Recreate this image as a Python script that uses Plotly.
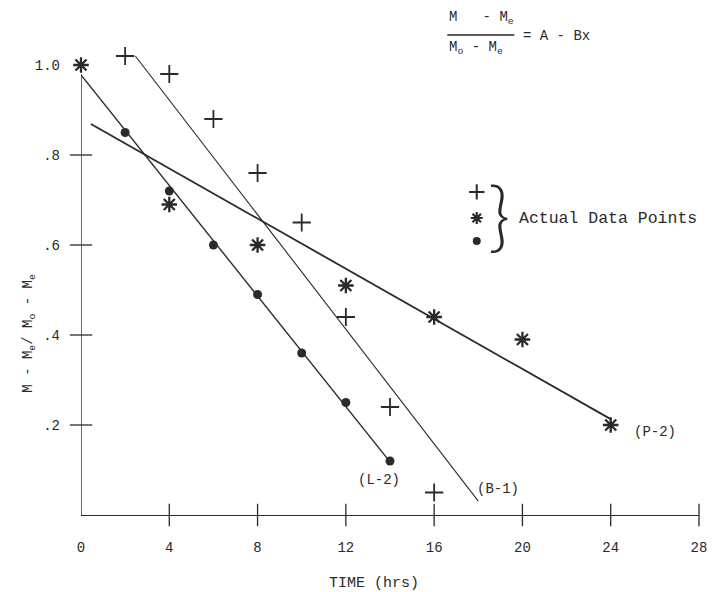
import plotly.graph_objects as go

# ---- data ----
b1_time = [2, 4, 6, 8, 10, 12, 14, 16]
b1_value = [1.02, 0.98, 0.88, 0.76, 0.65, 0.44, 0.24, 0.05]

p2_time = [0, 4, 8, 12, 16, 20, 24]
p2_value = [1.0, 0.69, 0.60, 0.51, 0.44, 0.39, 0.20]

l2_time = [2, 4, 6, 8, 10, 12, 14]
l2_value = [0.85, 0.72, 0.60, 0.49, 0.36, 0.25, 0.12]

# fitted straight lines (end points)
fit_l2_time = [0, 14]
fit_l2_value = [0.978, 0.118]
fit_b1_time = [2.46, 18.0]
fit_b1_value = [1.02, 0.031]
fit_p2_time = [0.45, 24.0]
fit_p2_value = [0.869, 0.213]

x_ticks = [0, 4, 8, 12, 16, 20, 24, 28]
x_tick_labels = ["0", "4", "8", "12", "16", "20", "24", "28"]
y_ticks = [0.2, 0.4, 0.6, 0.8, 1.0]
y_tick_labels = [".2", ".4", ".6", ".8", "1.0"]

line_labels = ["(L-2)", "(B-1)", "(P-2)"]
line_label_x = [13.5, 18.9, 26.0]
line_label_y = [0.078, 0.058, 0.184]

legend_x = [17.93, 17.93, 17.93]
legend_y = [0.718, 0.660, 0.609]

INK = "#2a2a2a"
FONT = "Liberation Mono, DejaVu Sans Mono, monospace"

fig = go.Figure()

# fitted lines
fig.add_trace(go.Scatter(x=fit_l2_time, y=fit_l2_value, mode="lines",
                         line=dict(color=INK, width=1.4), hoverinfo="skip"))
fig.add_trace(go.Scatter(x=fit_b1_time, y=fit_b1_value, mode="lines",
                         line=dict(color=INK, width=1.1), hoverinfo="skip"))
fig.add_trace(go.Scatter(x=fit_p2_time, y=fit_p2_value, mode="lines",
                         line=dict(color=INK, width=1.8), hoverinfo="skip"))

# data points
plus_marker = dict(symbol="cross-thin-open", size=13, line=dict(color=INK, width=1.8), color=INK)
star_marker = dict(symbol="asterisk-open", size=13, line=dict(color=INK, width=2.3), color=INK)
dot_marker = dict(symbol="circle", size=9, color=INK, line=dict(width=0))

fig.add_trace(go.Scatter(x=b1_time, y=b1_value, mode="markers", marker=plus_marker, cliponaxis=False))
fig.add_trace(go.Scatter(x=p2_time, y=p2_value, mode="markers", marker=star_marker, cliponaxis=False))
fig.add_trace(go.Scatter(x=l2_time, y=l2_value, mode="markers", marker=dot_marker, cliponaxis=False))

# legend symbols (drawn slightly smaller)
fig.add_trace(go.Scatter(x=[legend_x[0]], y=[legend_y[0]], mode="markers", cliponaxis=False,
                         marker=dict(symbol="cross-thin-open", size=11, color=INK,
                                     line=dict(color=INK, width=2))))
fig.add_trace(go.Scatter(x=[legend_x[1]], y=[legend_y[1]], mode="markers", cliponaxis=False,
                         marker=dict(symbol="asterisk-open", size=10, color=INK,
                                     line=dict(color=INK, width=2.2))))
fig.add_trace(go.Scatter(x=[legend_x[2]], y=[legend_y[2]], mode="markers", cliponaxis=False,
                         marker=dict(symbol="circle", size=8, color=INK, line=dict(width=0))))

# crossing tick marks on axes
fig.add_trace(go.Scatter(x=x_ticks[1:], y=[0] * (len(x_ticks) - 1), mode="markers",
                         marker=dict(symbol="line-ns-open", size=16, color=INK,
                                     line=dict(color=INK, width=1.3)),
                         cliponaxis=False, hoverinfo="skip"))
fig.add_trace(go.Scatter(x=[0] * 4, y=y_ticks[:4], mode="markers",
                         marker=dict(symbol="line-ew-open", size=16, color=INK,
                                     line=dict(color=INK, width=1.3)),
                         cliponaxis=False, hoverinfo="skip"))

# y axis line
fig.add_shape(type="line", xref="x", yref="y", x0=0, x1=0, y0=0, y1=0.98,
              line=dict(color=INK, width=1.4))

# line labels
for txt, lx, ly in zip(line_labels, line_label_x, line_label_y):
    fig.add_annotation(x=lx, y=ly, xref="x", yref="y", text=txt, showarrow=False,
                       xanchor="center", yanchor="middle",
                       font=dict(family=FONT, size=14, color=INK))

def px(xp, yp):
    return (xp - 81) / 626.0, (515 - yp) / 495.0

def note(x, y, text, size=14, xanchor="center", family=FONT, weight=None, **kw):
    f = dict(family=family, size=size, color=INK)
    if weight is not None:
        f["weight"] = weight
    fig.add_annotation(x=x, y=y, xref="paper", yref="paper", text=text, showarrow=False,
                       xanchor=xanchor, yanchor="middle", font=f, **kw)

# legend text + brace
bx, by = px(504, 214)
note(bx, by, "}", size=76, family="Lato, DejaVu Sans, sans-serif", weight=300)
tx, ty = px(523, 218)
note(tx, ty, "Actual Data Points", size=16.5, xanchor="left")

# formula
nx, ny = px(452, 18)
note(nx, ny, "M\u00a0\u00a0\u00a0- M<sub>e</sub>", xanchor="left")
dx, dy = px(452, 48)
note(dx, dy, "M<sub>o</sub>\u00a0- M<sub>e</sub>", xanchor="left")
fx0, fy = px(452, 35)
fx1, _ = px(520, 35)
fig.add_shape(type="line", xref="paper", yref="paper", x0=fx0, x1=fx1, y0=fy, y1=fy,
              line=dict(color=INK, width=1.5))
ex, ey = px(527, 36)
note(ex, ey, "= A - Bx", xanchor="left")

# axis titles
yx, yy = px(28, 333)
note(yx, yy, "M - M<sub>e</sub>/ M<sub>o</sub> - M<sub>e</sub>", textangle=-90)
xx, xy = px(378, 583)
note(xx, xy, "TIME (hrs)", size=15)

# page body has an 8px margin, so the figure is 8px smaller than the window
fig.update_layout(
    width=708, height=584,
    margin=dict(l=73, r=9, t=12, b=77),
    paper_bgcolor="white", plot_bgcolor="white",
    showlegend=False,
    xaxis=dict(range=[0, 28], tickvals=x_ticks, ticktext=x_tick_labels,
               showgrid=False, zeroline=False, showline=True, linecolor=INK, linewidth=1.4,
               ticks="", ticklabelstandoff=19,
               tickfont=dict(family=FONT, size=14, color=INK)),
    yaxis=dict(range=[0, 1.1], tickvals=y_ticks, ticktext=y_tick_labels,
               showgrid=False, zeroline=False, showline=False,
               ticks="", ticklabelstandoff=20,
               tickfont=dict(family=FONT, size=14, color=INK)),
)

fig.write_html("out.html")
